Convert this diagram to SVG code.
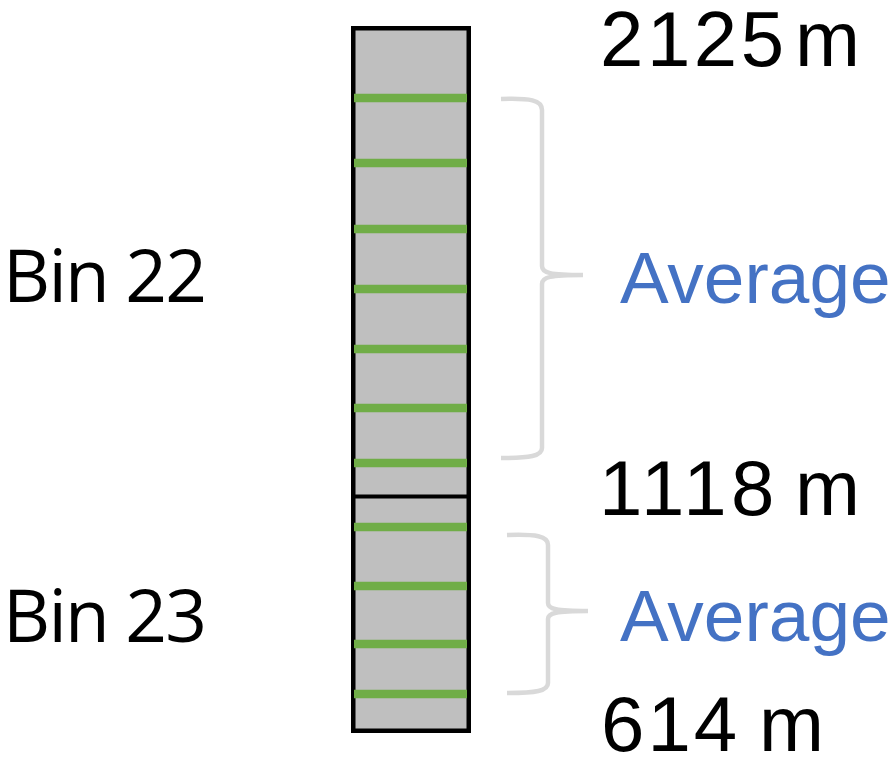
<svg xmlns="http://www.w3.org/2000/svg" width="894" height="760" viewBox="0 0 894 760">
<style>
.bar{fill:#bfbfbf;stroke:#000;stroke-width:4.5}
.div{stroke:#000;stroke-width:4}
.g{stroke:#70ad47;stroke-width:8.5}
.br{fill:none;stroke:#d9d9d9;stroke-width:4.5}
.num{font-family:"Liberation Sans",Arial,sans-serif;font-size:78px;fill:#000}
.bin{font-family:"Open Sans","Noto Sans",sans-serif;font-size:73px;fill:#000}
.avg{font-family:"Liberation Sans",Arial,sans-serif;font-size:73px;fill:#4472c4}
</style>
<rect width="894" height="760" fill="#fff"/>
<g id="column">
<rect class="bar" x="353.25" y="28.25" width="115.5" height="702.5"/>
<line class="div" x1="351" y1="496.5" x2="471" y2="496.5"/>
</g>
<g id="samples">
<line class="g" x1="354" y1="98" x2="467" y2="98"/>
<line class="g" x1="354" y1="163" x2="467" y2="163"/>
<line class="g" x1="354" y1="229" x2="467" y2="229"/>
<line class="g" x1="354" y1="289" x2="467" y2="289"/>
<line class="g" x1="354" y1="349" x2="467" y2="349"/>
<line class="g" x1="354" y1="408" x2="467" y2="408"/>
<line class="g" x1="354" y1="463" x2="467" y2="463"/>
<line class="g" x1="354" y1="527" x2="467" y2="527"/>
<line class="g" x1="354" y1="586" x2="467" y2="586"/>
<line class="g" x1="354" y1="644" x2="467" y2="644"/>
<line class="g" x1="354" y1="694" x2="467" y2="694"/>
</g>
<g id="connectors">
<path class="br" d="M501,99 C530,98 542,100 542,110 L542,266 C542,273 550,275 583,275 C550,275 542,277 542,284 L542,448 C542,456 530,458 501,458"/>
<path class="br" d="M507,535 C536,534 548,536 548,545 L548,603 C548,609 556,611 588,611 C556,611 548,613 548,619 L548,683 C548,691 536,693 507,693"/>
</g>
<g id="labels">
<text class="num" y="66"><tspan x="600" letter-spacing="3.5">2125</tspan><tspan x="795">m</tspan></text>
<text class="num" y="515"><tspan x="599" letter-spacing="4.5">1118</tspan><tspan x="795">m</tspan></text>
<text class="num" y="751"><tspan x="601" letter-spacing="3">614</tspan><tspan x="759">m</tspan></text>
<text class="bin" x="3" y="302" textLength="204" lengthAdjust="spacing">Bin 22</text>
<text class="bin" x="3" y="642" textLength="204" lengthAdjust="spacing">Bin 23</text>
<text class="avg" x="620" y="303">Average</text>
<text class="avg" x="620" y="641">Average</text>
</g>
</svg>
